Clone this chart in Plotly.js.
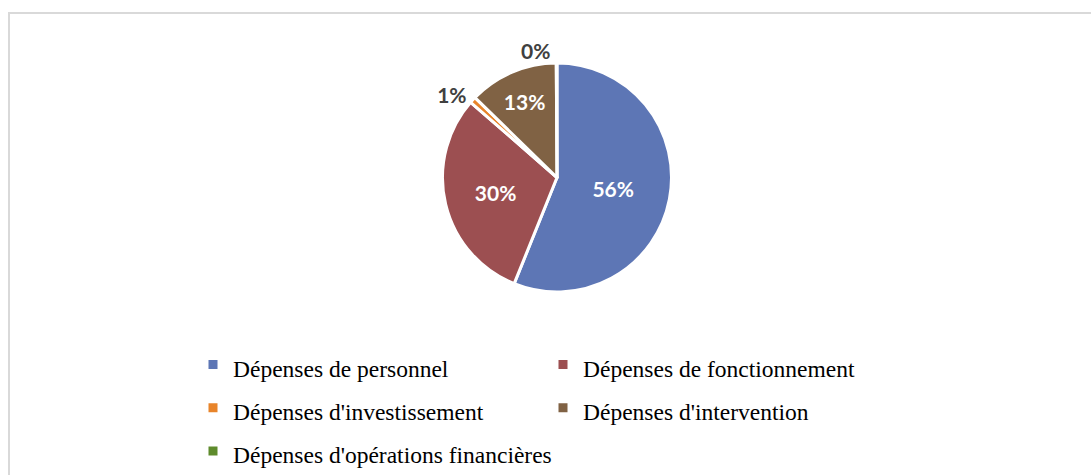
<!DOCTYPE html>
<html>
<head>
<meta charset="utf-8">
<script src="https://cdn.plot.ly/plotly-3.0.1.min.js"></script>
<style>
  html, body { margin: 0; padding: 0; background: #ffffff; }
  #wrap { position: relative; width: 1091px; height: 475px; overflow: hidden; }
  #chart { position: absolute; left: 0; top: 0; width: 1091px; height: 475px; }
  #frame { position: absolute; left: 8px; top: 12px; width: 1100px; height: 480px;
           border-left: 2px solid #d9d9d9; border-top: 2px solid #d9d9d9; pointer-events: none; }
</style>
</head>
<body>
<div id="wrap">
  <div id="chart"></div>
  <div id="frame"></div>
</div>
<script>
// Data
const categories = [
  "Dépenses de personnel",
  "Dépenses de fonctionnement",
  "Dépenses d'investissement",
  "Dépenses d'intervention",
  "Dépenses d'opérations financières"
];
const shares = [56.1, 30.3, 0.9, 12.6, 0.1];
const sliceColors = ["#5d76b5", "#9c4f51", "#e8842a", "#806244", "#5e8b2c"];
const labelPositions = ["inside", "inside", "outside", "inside", "outside"];

const legendTextSize = 23.5;

const trace = {
  type: "pie",
  labels: categories.map(c => '<span style="font-size:' + legendTextSize + 'px">' + c + '</span>'),
  values: shares,
  sort: false,
  direction: "clockwise",
  rotation: 0,
  domain: { x: [0.4001, 0.6222], y: [0, 1] },
  marker: { colors: sliceColors, line: { color: "#ffffff", width: 3 } },
  texttemplate: "%{percent:.0%}",
  textposition: labelPositions,
  insidetextorientation: "horizontal",
  insidetextfont: { family: "Lato, 'Open Sans', sans-serif", size: 21, color: "#ffffff", weight: "bold" },
  outsidetextfont: { family: "Lato, 'Open Sans', sans-serif", size: 21, color: "#404040", weight: "bold" },
  hoverinfo: "none"
};

const layout = {
  width: 1091,
  height: 475,
  paper_bgcolor: "#ffffff",
  plot_bgcolor: "#ffffff",
  margin: { l: 30, r: 30, t: 63, b: 183, autoexpand: false },
  showlegend: true,
  legend: {
    orientation: "h",
    x: 0.1581,
    xanchor: "left",
    y: -0.2,
    yanchor: "top",
    entrywidth: 305,
    entrywidthmode: "pixels",
    font: { family: "'Times New Roman', 'Liberation Serif', serif", size: 31, color: "#000000" },
    bgcolor: "rgba(0,0,0,0)",
    traceorder: "normal"
  }
};

Plotly.newPlot("chart", [trace], layout, { displayModeBar: false, staticPlot: true });
</script>
</body>
</html>
